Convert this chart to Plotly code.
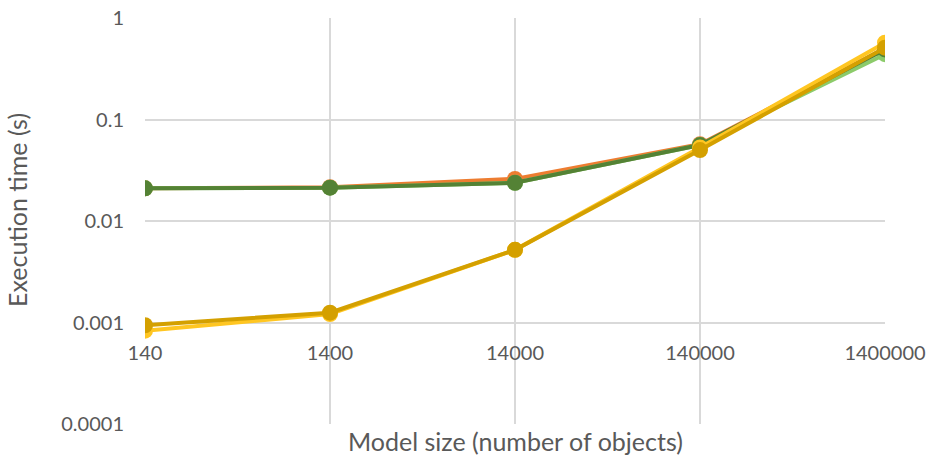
import plotly.graph_objects as go

sizes = [140, 1400, 14000, 140000, 1400000]
size_labels = ["140", "1400", "14000", "140000", "1400000"]

orange = [0.021, 0.0215, 0.026, 0.057, 0.50]
light_green = [0.021, 0.0213, 0.0238, 0.056, 0.44]
dark_green = [0.021, 0.0213, 0.0238, 0.056, 0.49]
yellow = [0.00083, 0.00121, 0.0052, 0.053, 0.57]
gold = [0.00094, 0.00125, 0.0052, 0.050, 0.51]

series = [
    ("Orange", orange, "#ED7D31"),
    ("Light green", light_green, "#8CCB6A"),
    ("Dark green", dark_green, "#548235"),
    ("Yellow", yellow, "#FFC622"),
    ("Gold", gold, "#D4A000"),
]

fig = go.Figure()
for name, vals, col in series:
    fig.add_trace(go.Scatter(
        x=sizes, y=vals, name=name, mode="lines+markers",
        line=dict(color=col, width=4),
        marker=dict(color=col, size=16),
        showlegend=False,
    ))

# position of 0.001 within the y range [1e-4, 1]
pos = 1 / 4
FONT = "Lato, Open Sans, sans-serif"
GREY = "#595959"

fig.update_layout(
    width=929, height=463,
    margin=dict(l=145, r=44, t=18, b=39),
    paper_bgcolor="white", plot_bgcolor="white",
    font=dict(family=FONT, size=20, color=GREY),
    xaxis=dict(
        type="log", tickvals=sizes, ticktext=size_labels,
        range=[2.146128, 6.146128],
        showgrid=True, gridcolor="#D9D9D9", gridwidth=2,
        zeroline=False, showline=False,
        anchor="free", position=pos, automargin=False,
        ticks="", ticklabelstandoff=16,
        tickfont=dict(family=FONT, size=20, color=GREY),
    ),
    yaxis=dict(
        type="log", range=[-4, 0],
        tickvals=[0.0001, 0.001, 0.01, 0.1, 1],
        ticktext=["0.0001", "0.001", "0.01", "0.1", "1"],
        showgrid=True, gridcolor="#D9D9D9", gridwidth=2,
        zeroline=False, showline=False, automargin=False,
        ticks="", ticklabelstandoff=20,
        tickfont=dict(family=FONT, size=20, color=GREY),
    ),
    annotations=[
        dict(
            text="Model size (number of objects)", xref="paper", yref="paper",
            x=0.5, y=-0.042, xanchor="center", yanchor="middle", showarrow=False,
            font=dict(family=FONT, size=25, color=GREY),
        ),
        dict(
            text="Execution time (s)", xref="paper", yref="paper",
            x=-0.196, y=0.527, xanchor="left", yanchor="middle", showarrow=False,
            textangle=-90, font=dict(family=FONT, size=25, color=GREY),
        ),
    ],
)

fig.write_html("out.html", config={"displayModeBar": False},
               post_script="document.body.style.margin='0';document.body.style.padding='0';")
